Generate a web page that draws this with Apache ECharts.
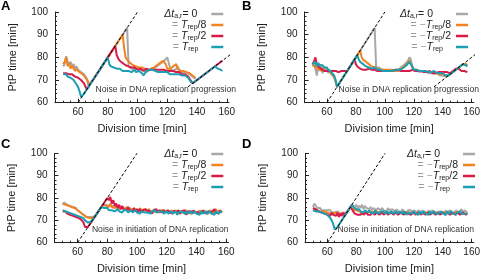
<!DOCTYPE html>
<html><head><meta charset="utf-8">
<script src="https://cdn.jsdelivr.net/npm/echarts@6/dist/echarts.min.js"></script>
<style>html,body{margin:0;padding:0;background:#fff}#c{width:483px;height:277px}</style>
</head><body><div id="c"></div>
<script>
// first sampled division time [min]; one value per minute
const X0 = 50;

// Panel A: noise in DNA replication progression, Δt = 0, Trep/8, Trep/2, Trep
const A_GRAY = [76,77,80.5,78,77,78,76,77,75,76,74.5,75,73.5,74,72.5,72,70.5,67.5,
 68,69,70,71,72,73,74,75,76,77,78,79,80,81,82,83,84,85,86,87,88,89,90,91,92,93,
 76,75.5,75,75.5,75,74.5,75,74.5,74.5,74,74.5,74,73.5,74,74.5,74,74.5,75,75.5,76,
 76.5,77,77.5,78,78.5,79,80,80.5,75,74.5,74,74.5,75,76,74.5,74,73.5,74,73.5,73,
 73,72.5,72,71.5,71,70.5];
const A_ORANGE = [77,78,80,76,77.5,75,76.5,75,74,75,74,73.5,73,72.5,72,71,70,69,
 68,69,70,71,72,73,74,75,76,77,78,79,80,81,82,83,84,85,86,87,88,89,90,
 84,80,79,78.5,77.5,77,76.5,76,76,75.5,75.5,75,75.5,75,75,74.5,74,74.5,75,75,
 75.5,76,76.5,77,77.5,78,78.5,79,77,75,74.5,75,75.5,76,76.5,77,75,74.5,74,74.5,
 74,74,73.5,73.5,73,72.5,72,71.5,71];
const A_RED = [73,72.5,73,72.5,72.5,72,72.5,72,71.5,71.5,71,70.5,70,69.5,68.5,67,
 66,67,68,69,70,71,72,73,74,75,76,77,78,79,80,81,82,83,84,
 85,81,79.5,78.5,78,77.5,77,76.5,76,76,75.5,75.5,75,75.5,75,74.5,75,75,74.5,74,
 74.5,75,75,74.5,75,74.5,74,74.5,75,74.5,74,74.5,74,74.5,74,74,73.5,74,73.5,74,
 73.5,73.5,73,73.5,73,72.5,73,72.5,72,71.5,70.5,69.5,
 68.5,69,69.5,70,70.5,71,71.5,72,72.5,73,73.5,74,74.5,75,75.5,76,76.5,77,77.5,78,78.5];
const A_TEAL = [72.5,72,72.5,71.5,72,71,71.5,70,69,68,67,65,62.5,
 63,64,65,66,67,68,69,70,71,72,73,74,75,76,77,78,79,80,
 77,76,75.5,75.5,75,75,74.5,75,74.5,74,74.5,74,74.5,74,74,73.5,74,74.5,73.5,74,
 74,73.5,73,72,72.5,74,74,74.5,74,74.5,74.5,74,74,73.5,74,73.5,73,73.5,73,73.5,
 73,72.5,73,72.5,73,72.5,72,72.5,72,72,71.5,72,71.5,71,70.5,69,
 68.5,69,69.5,70,70.5,71,71.5,72,72.5,73,73.5,74,74.5,75,75.5,76,76.5,
 75,74.5,74.5,74];

// Panel B: noise in DNA replication progression, Δt = 0, -Trep/8, -Trep/2, -Trep
const B_GRAY = [76,77.5,75,72,76,74,77,73,76,74,75.5,73,74.5,72.5,73,71.5,69,
 67,68,69,70,71,72,73,74,75,76,77,78,79,80,81,82,83,84,85,86,87,88,89,90,91,92,93,
 75.5,75,75.5,75,74.5,75,74.5,74.5,74,74.5,74,74.5,74,74.5,74,74.5,75,75.5,76,76.5,
 77,77.5,78.5,80,79,76,74.5,74,74.5,74,73.5,74,74,73.5,74,73.5,73,73.5,73,73.5,
 73,72.5,73,72.5,72,72.5,72,72,71.5,72,72,
 72.5,73,73.5,74,74.5,75,75.5,76,76.5,77,77.5,77,76.5];
const B_ORANGE = [76.5,77,76,75,74.5,75,74,75,74.5,74,74.5,74,73.5,73,72,71,69.5,
 67,68,69,70,71,72,73,74,75,76,77,78,79,80,81,82,83,
 80,79,78.5,78,77.5,77,76.5,76,76,75.5,75.5,75,75,74.5,75,74.5,74,74.5,74,74.5,
 74,74.5,74,74,74.5,74,74.5,75,75.5,76,76.5,77,77.5,78.5,77,75.5,74.5,74,74.5,74,
 74,74.5,74,73.5,74,74,73.5,74,73.5,73.5,73,73.5,73,73,72.5,73,72.5,72,72,72,72,
 72.5,73,73.5,74,74.5,75,75.5,76,76.5,77,77.5,77,76.5];
const B_RED = [77,78,80,77,76,75.5,75,74.5,74,74.5,74,73.5,74,74.5,74,73.5,74,74,73.5,74,74,73.5,74,74,
 74,75,76,77,78,79,
 77,76,75.5,75,75,74.5,75,74.5,74.5,75,74.5,74.5,74,74.5,74.5,74,74.5,74,74.5,74,
 74.5,74,74.5,74,74.5,74,74,74.5,74,74.5,74,74,74.5,74,74.5,74,74.5,74,74,74.5,
 74,74,73.5,74,73.5,74,74,73.5,74,73.5,73.5,74,73.5,73,73.5,73,73.5,73.5,73,73.5,
 73,73.5,73,73.5,73.5,73,73.5,74,74.5,75,75.5,75,74.5,74,74.5,74,74,73.5];
const B_TEAL = [77,76.5,78,76,77.5,76.5,76,76.5,75.5,75,75.5,74.5,74,73.5,73,72,70,
 67,68,69,70,71,72,73,74,75,76,77,78,79,80,81,
 79,78,77.5,77,76.5,76,76,75.5,75.5,75,75,75.5,75,74.5,75,74.5,74.5,74,74.5,74,
 74.5,74,74.5,74,74,74.5,74,74.5,74,74.5,75,75.5,76,76.5,77,78,77.5,76,74.5,74,
 74.5,74,74,74.5,74,73.5,74,74,73.5,74,73.5,73.5,74,73.5,73,73.5,73,72.5,73,72.5,72,72,72,
 72.5,73,73.5,74,74.5,75,75.5,76,76.5,77,77.5,
 76.5,76];

// Panel C: noise in initiation of DNA replication, Δt = 0, Trep/8, Trep/2, Trep
const C_GRAY = [77,78,77.5,77,77,76.5,76.5,76,75.5,75.5,74.5,74.5,73.5,73.5,
 72.5,72.5,71.5,71,71.5,71,71.5,71.5,
 72,73,74,75,76,77,
 77,77,76.5,76.5,77,76.5,76,76,76,75.5,75.5,75.5,75.5,75,75.5,75.5,75,75,75,75,
 75,74.5,74.5,74.5,75,74.5,74.5,74.5,74,74.5,74.5,74,74.5,74,74.5,74,74,74.5,74,74,
 74,74,74.5,74,74,74,74.5,74,73.5,74,74,73.5,74,74,74,73.5,74,74,73.5,74,
 74,73.5,74,74,73.5,74,74,73.5,74,74,73.5,74,74,73.5,74,74,73.5,74,74,73.5];
const C_ORANGE = [77.5,78,77,77.5,76.5,77,76,76.5,75.5,75,74.5,74,73.5,73,
 72.5,72,71.5,71.5,71,71,71,71.5,
 72,73,74,75,76,77,
 77.5,76.5,77,76,77.5,76,76.5,75.5,76.5,75.5,76,75,76,75.5,75,76,74.5,75.5,75,74.5,
 75.5,74.5,75,74,75.5,74.5,74,75,74.5,74,75,74,74.5,73.5,75,74,74.5,73.5,74.5,74,
 74.5,73.5,74.5,74,73.5,74.5,74,73.5,74.5,73.5,74,73,74.5,73.5,74,74.5,73.5,74,73,74,
 74.5,73.5,74,73,74.5,73.5,74,74.5,73.5,74,73,74.5,74,73.5,74,75,73.5,74.5,74,73.5];
const C_RED = [74,73.5,74,73,73.5,72.5,73,72,72.5,71.5,72,71,70.5,70,
 69,67,66.5,
 67,68,69,70,71,72,73,74,75,76,77,78,79,80,
 79,80.5,77.5,79,76.5,77.5,75.5,77,75,76.5,75,75.5,74.5,76,74.5,75,74,75.5,74,75,
 74,75,73.5,74.5,74,75,73.5,74.5,74,73,74.5,74,75,73.5,74.5,73.5,74,74.5,73.5,74,
 74.5,73.5,74,73,74.5,73.5,74,74.5,73,74,73.5,74.5,72.5,74,73.5,74,73,74.5,73.5,74,
 73.5,74,73,74.5,73.5,74,73,74,74.5,73.5,74,75,73.5,74,73,74.5,73.5];
const C_TEAL = [74.5,75,74,74.5,73.5,74,73,73.5,72.5,73,72,72.5,71.5,71,
 71,70,69.5,69,69.5,69.5,
 70,71,72,73,74,75,76,
 76.5,75.5,75,75.5,74.5,75,74.5,75,74,74.5,75,74,74.5,73.5,74.5,74,74.5,73.5,74,74.5,
 73.5,74,74.5,73.5,74,73,74,74.5,73.5,74,73.5,74,73,74,73.5,74.5,73.5,73,74,73.5,
 74,73,73.5,74,73,73.5,74,73,73.5,74,72.5,73.5,73,74,73.5,73,74,73,73.5,74,
 73,73.5,74,73,73.5,72.5,74,73,73.5,74,73,73.5,74,73,73.5,72.5,74,73.5,73,74,73.5];

// Panel D: noise in initiation of DNA replication, Δt = 0, -Trep/8, -Trep/2, -Trep
const D_GRAY = [76,77.5,76.5,75.5,75,75.5,74.5,75,74.5,74,74.5,
 74,74.5,73.5,74,73.5,73.5,74,73.5,73,73.5,73.5,73,
 73,74,75,76,77,
 77.5,76,77,75.5,76.5,75.5,77,75,76.5,75.5,76,75,76,74.5,75.5,76,74.5,75.5,75,74.5,
 75.5,74.5,75,74,75.5,74.5,74,75,74.5,74,75,74,74.5,73.5,75,74,74.5,73.5,74.5,74,
 74.5,73.5,74.5,74,73.5,74.5,74,73.5,74.5,73.5,74,73,74.5,73.5,74,74.5,73.5,74,73,74,
 74.5,73.5,74,73,74.5,73.5,74,74.5,73.5,74,73,74.5,74,73.5,74,75,73.5,74.5,74,73.5];
const D_ORANGE = [75,75.5,74.5,74.5,74,74,74,73.5,74,73.5,73.5,
 73.5,73,73.5,73,73,73.5,73,73,73.5,73,73,73,
 73,74,75,76,
 75.5,75,74.5,74.5,74,74,74,73.5,74,73.5,74,73.5,73.5,74,73.5,73.5,73.5,74,73.5,73.5,
 73.5,73.5,74,73.5,73.5,73.5,73,73.5,73.5,73.5,74,73.5,73.5,73,73.5,73.5,73.5,73.5,73,73.5,
 73.5,73.5,73,73.5,73.5,73,73.5,73.5,73.5,73,73.5,73.5,73,73.5,73.5,73,73.5,73.5,73,73.5,
 73.5,73,73.5,73.5,73,73.5,73,73.5,73.5,73,73.5,73.5,73,73.5,73,73.5,73.5,73,73.5,73,73.5];
const D_RED = [75.5,76,75,74.5,74,74.5,73.5,74,73,73.5,72.5,
 73,72,73.5,72.5,73,72,73.5,71.5,73,72,73.5,
 72,73,74,75,76,
 75,74,73,73.5,72.5,73,72.5,73.5,72.5,73,73.5,72.5,73,72.5,73.5,73,72.5,73.5,73,72.5,
 73,73.5,72.5,73,73.5,72.5,73,73.5,73,72.5,73.5,73,72.5,73,73.5,73,72.5,73.5,73,73,
 73.5,72.5,73,73.5,72.5,73,73.5,73,72.5,73.5,73,72.5,73,73.5,72.5,73,73.5,73,72.5,73,
 73.5,72.5,73,73.5,73,72.5,73.5,73,72.5,73,73.5,73,72.5,73.5,73,72.5,73,73.5,73,72.5,73];
const D_TEAL = [74.5,74.5,74,74,74,73.5,73.5,73,73,72.5,72.5,72,71,70,68.5,
 66,66.5,
 67,68,69,70,71,72,73,74,75,76,77,
 76,75.5,75,74.5,75,74,74.5,73.5,74.5,74,73.5,74.5,73.5,74,73,74.5,73.5,74,73,74,
 73.5,74,73,74,73.5,73,74,73.5,73,74,73.5,73,74,73.5,73,74,73.5,72.5,73.5,74,
 73,73.5,74,73,73.5,72.5,74,73,73.5,74,73,73.5,72.5,74,73,73.5,74,73,73.5,73,
 73.5,74,73,73.5,72.5,74,73,73.5,74,73,73.5,72.5,73.5,73,74,73,73.5,73,73.5,73];

// reference dashed lines (PtP = division time, PtP = division time / 2)
const DIAG_UP_X = [60, 100], DIAG_UP_Y = [60, 100];
const DIAG_LOW_X = [134, 163], DIAG_LOW_Y = [67, 81.5];

// ticks
const X_TICKS = [60, 80, 100, 120, 140, 160];
const X_MINOR = [50,55,65,70,75,85,90,95,105,110,115,125,130,135,145,150,155];
const Y_MIN = 60, Y_MAX = 100, Y_STEP = 10;
const X_MIN = 44.5, X_MAX = 161.5;

const NOTE_REP = 'Noise in DNA replication progression';
const NOTE_INI = 'Noise in initiation of DNA replication';

const FF = '"Liberation Sans", Arial, sans-serif';
const COL = { gray: '#a8a8a8', orange: '#f28322', red: '#d81b47', teal: '#1c9fb2' };
const INK = '#222';

const grids = [
  { left: 55, top: 12, width: 174, height: 90.7 },
  { left: 304.5, top: 12, width: 172.5, height: 90.7 },
  { left: 54.5, top: 153.3, width: 174, height: 89.4 },
  { left: 305, top: 153.3, width: 172.5, height: 89.4 }
];

const xAxis = [], yAxis = [];
grids.forEach((g, p) => {
  xAxis.push({
    gridIndex: p, type: 'value', position: 'bottom', min: X_MIN, max: X_MAX,
    axisLine: { show: true, onZero: false, lineStyle: { color: INK, width: 1 } },
    axisTick: { show: true, inside: true, length: 4, customValues: X_TICKS, lineStyle: { color: INK } },
    axisLabel: { customValues: X_TICKS, fontSize: 10, color: INK, margin: 5, fontFamily: FF },
    splitLine: { show: false },
    name: 'Division time [min]', nameLocation: 'middle', nameGap: 21,
    nameTextStyle: { fontSize: 11, color: INK, fontFamily: FF, fontWeight: 'normal' }
  });
  xAxis.push({
    gridIndex: p, type: 'value', position: 'bottom', min: X_MIN, max: X_MAX,
    axisLine: { show: false, onZero: false },
    axisTick: { show: true, inside: true, length: 2, customValues: X_MINOR, lineStyle: { color: INK } },
    axisLabel: { show: false }, splitLine: { show: false }
  });
  yAxis.push({
    gridIndex: p, type: 'value', min: Y_MIN, max: Y_MAX, interval: Y_STEP,
    axisLine: { show: true, lineStyle: { color: INK, width: 1 } },
    axisTick: { show: true, inside: true, length: 4, lineStyle: { color: INK } },
    minorTick: { show: true, splitNumber: 5, length: 2, lineStyle: { color: INK } },
    axisLabel: { fontSize: 10, color: INK, margin: 7, fontFamily: FF },
    splitLine: { show: false },
    name: 'PtP time [min]', nameLocation: 'middle', nameGap: 37, nameRotate: 90,
    nameTextStyle: { fontSize: 11, color: INK, fontFamily: FF, fontWeight: 'normal' }
  });
});

function mk(name, arr, p, color, z) {
  const data = [];
  arr.forEach((v, i) => { if (v != null) data.push([X0 + i, v]); });
  return { name, type: 'line', xAxisIndex: p * 2, yAxisIndex: p, data, symbol: 'none', showSymbol: false,
    lineStyle: { color, width: 2 }, itemStyle: { color }, z, animation: false, silent: true };
}
function dash(xs, ys, p) {
  return { type: 'line', xAxisIndex: p * 2, yAxisIndex: p, data: xs.map((x, i) => [x, ys[i]]),
    symbol: 'none', lineStyle: { color: '#000', width: 1, type: [3, 2] }, z: 10, animation: false, silent: true };
}

const panels = [
  [A_GRAY, A_ORANGE, A_RED, A_TEAL],
  [B_GRAY, B_ORANGE, B_RED, B_TEAL],
  [C_GRAY, C_ORANGE, C_RED, C_TEAL],
  [D_GRAY, D_ORANGE, D_RED, D_TEAL]
];
const letters = ['A', 'B', 'C', 'D'];
const cols = [COL.gray, COL.orange, COL.red, COL.teal];
const series = [];
const names = [];
panels.forEach((arrs, p) => {
  const nm = [];
  arrs.forEach((arr, k) => {
    const n = letters[p] + k;
    nm.push(n);
    series.push(mk(n, arr, p, cols[k], 2 + k));
  });
  names.push(nm);
  series.push(dash(DIAG_UP_X, DIAG_UP_Y, p));
  if (p < 2) series.push(dash(DIAG_LOW_X, DIAG_LOW_Y, p));
});

const RICH = {
  it: { fontStyle: 'italic', fontSize: 10.5, lineHeight: 11, fontFamily: FF, color: INK },
  sub: { fontSize: 7, lineHeight: 7, verticalAlign: 'bottom', fontFamily: FF, color: INK },
  t: { fontSize: 10.5, lineHeight: 11, fontFamily: FF, color: INK },
  g: { fontSize: 10.5, lineHeight: 11, fontFamily: FF, color: '#9a9a9a' },
  s8: { width: 8, lineHeight: 11 },
  s9: { width: 9, lineHeight: 11 },
  s18: { width: 18, lineHeight: 11 }
};
const LBL_POS = [
  '{it|Δt}{sub|a,r}{t|= 0}{s9| }',
  '{g|=} {it|T}{sub|rep}{t|/8}',
  '{g|=} {it|T}{sub|rep}{t|/2}',
  '{g|=} {it|T}{sub|rep}{s8| }'
];
const LBL_NEG = [
  '{it|Δt}{sub|a,r}{t|= 0}{s18| }',
  '{g|= −}{it|T}{sub|rep}{t|/8}',
  '{g|= −}{it|T}{sub|rep}{t|/2}',
  '{g|= −}{it|T}{sub|rep}{s8| }'
];
const legPos = [
  { right: 259.7, top: 8.5, lbl: LBL_POS },
  { right: 15, top: 8.5, lbl: LBL_NEG },
  { right: 259.7, top: 148.5, lbl: LBL_POS },
  { right: 8, top: 148.5, lbl: LBL_NEG }
];
const legend = legPos.map((L, p) => ({
  data: names[p], orient: 'vertical', align: 'right', right: L.right, top: L.top,
  itemWidth: 12, itemHeight: 2.5, icon: 'rect', itemGap: 0, padding: 0, selectedMode: false,
  formatter: n => L.lbl[names[p].indexOf(n)],
  textStyle: { fontFamily: FF, fontSize: 10.5, color: INK, lineHeight: 11, rich: RICH }
}));

function txt(text, x, y, align, font, fill) {
  return { type: 'text', x, y, silent: true, z: 20,
    style: { text, font, fill, align, textAlign: align, verticalAlign: 'middle', textVerticalAlign: 'middle' } };
}
const NOTE_FONT = '8.6px ' + FF;
const LET_FONT = 'bold 13px ' + FF;
const graphic = [
  txt(NOTE_REP, 236, 89.3, 'right', NOTE_FONT, '#333'),
  txt(NOTE_REP, 479, 89.3, 'right', NOTE_FONT, '#333'),
  txt(NOTE_INI, 228.5, 229.3, 'right', NOTE_FONT, '#333'),
  txt(NOTE_INI, 474, 229.3, 'right', NOTE_FONT, '#333'),
  txt('A', 1, 6, 'left', LET_FONT, '#000'),
  txt('B', 242, 6, 'left', LET_FONT, '#000'),
  txt('C', 1, 144, 'left', LET_FONT, '#000'),
  txt('D', 242, 144, 'left', LET_FONT, '#000')
];

const chart = echarts.init(document.getElementById('c'), null, { renderer: 'canvas' });
chart.setOption({
  animation: false, backgroundColor: '#fff',
  grid: grids, xAxis, yAxis, series, legend, graphic
});
</script></body></html>
